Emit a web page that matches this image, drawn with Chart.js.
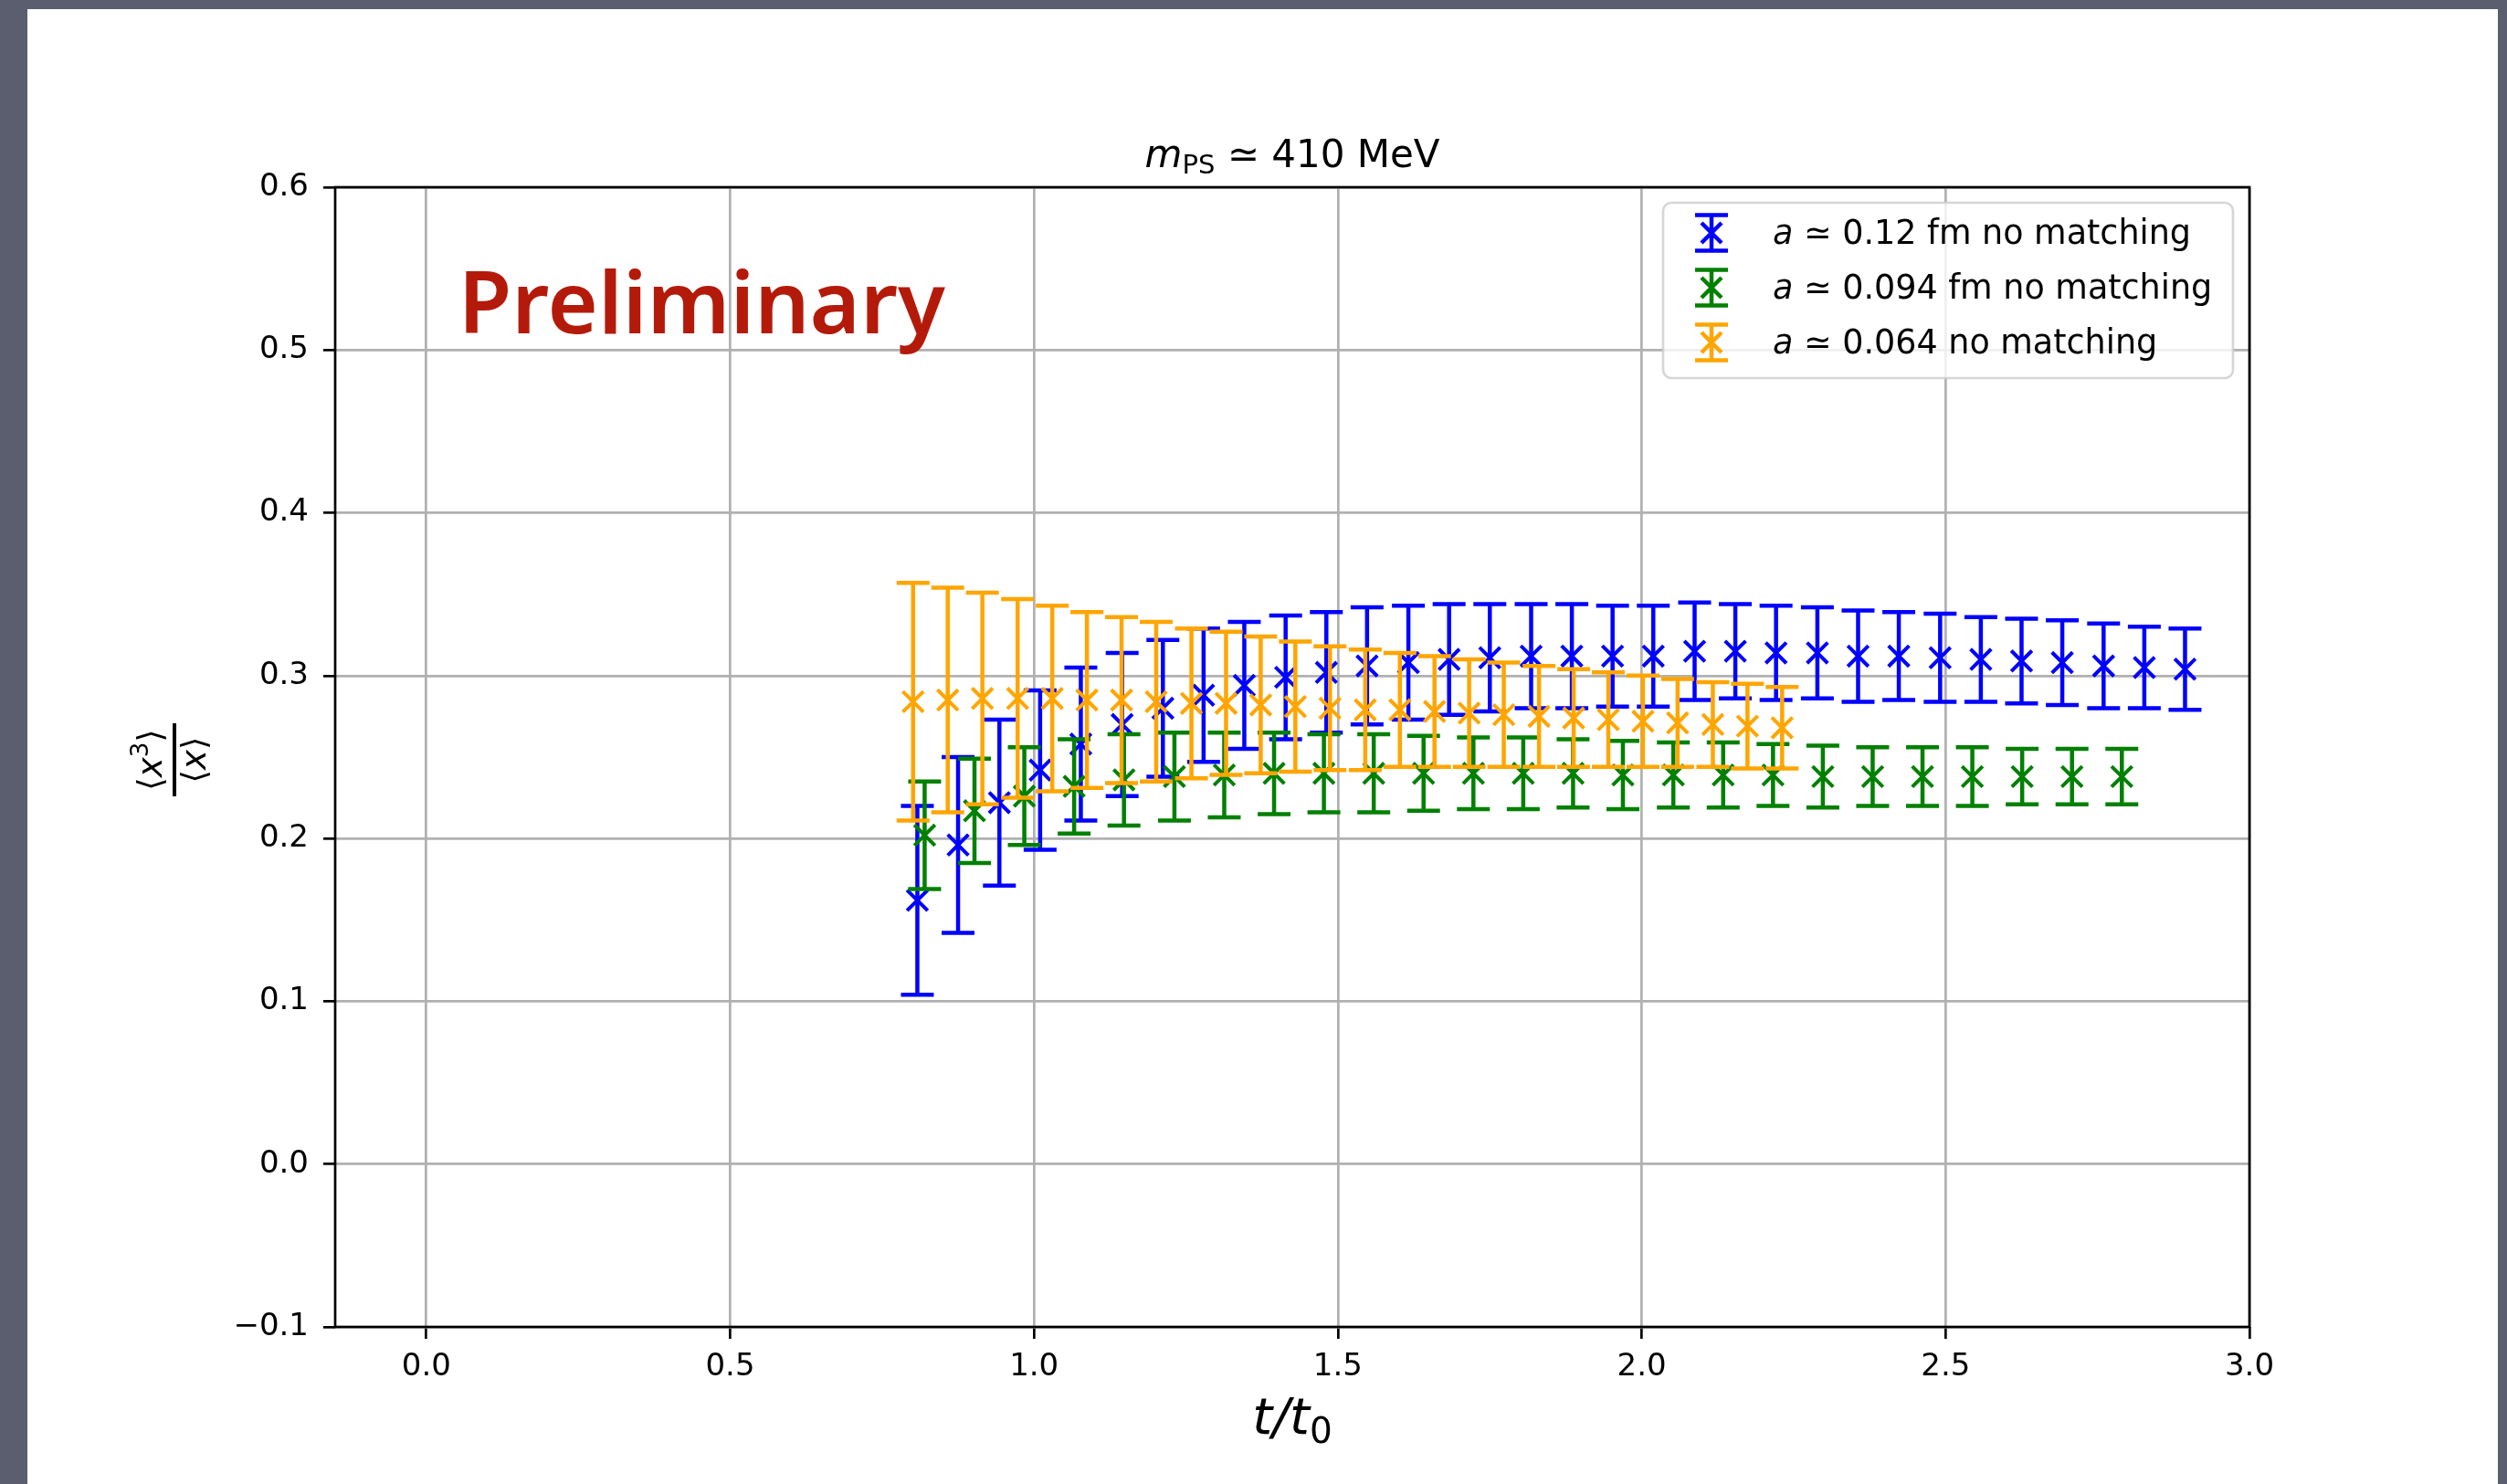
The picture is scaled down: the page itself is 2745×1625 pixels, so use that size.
<!DOCTYPE html>
<html>
<head>
<meta charset="utf-8">
<title>m_PS ≃ 410 MeV</title>
<script src="https://cdn.jsdelivr.net/npm/chart.js"></script>
<style>
  html, body { margin: 0; padding: 0; }
  body { width: 2745px; height: 1625px; background: #5a5e6e; position: relative; overflow: hidden; }
  .slide { position: absolute; left: 30px; top: 10px; width: 2705px; height: 1615px; background: #fff; }
  #chart { position: absolute; left: 0; top: 0; }
</style>
</head>
<body>
<div class="slide"></div>
<canvas id="chart" width="2745" height="1625"></canvas>
<script>
// series
const seriesLabels = ['a ≃ 0.12 fm no matching', 'a ≃ 0.094 fm no matching', 'a ≃ 0.064 no matching'];
const seriesColors = ['#0000ff', '#008000', '#ffa500'];

// a ~ 0.12 fm
const xBlue = [0.808, 0.875, 0.943, 1.010, 1.077, 1.145, 1.212, 1.279, 1.346, 1.414, 1.481, 1.548, 1.616, 1.683, 1.750, 1.818,
               1.885, 1.952, 2.019, 2.087, 2.154, 2.221, 2.289, 2.356, 2.423, 2.491, 2.558, 2.625, 2.692, 2.760, 2.827, 2.894];
const yBlue = [0.162, 0.196, 0.222, 0.242, 0.258, 0.270, 0.280, 0.288, 0.294, 0.299, 0.302, 0.306, 0.308, 0.310, 0.311, 0.312,
               0.312, 0.312, 0.312, 0.315, 0.315, 0.314, 0.314, 0.312, 0.312, 0.311, 0.310, 0.309, 0.308, 0.306, 0.305, 0.304];
const eBlue = [0.058, 0.054, 0.051, 0.049, 0.047, 0.044, 0.042, 0.041, 0.039, 0.038, 0.037, 0.036, 0.035, 0.034, 0.033, 0.032,
               0.032, 0.031, 0.031, 0.030, 0.029, 0.029, 0.028, 0.028, 0.027, 0.027, 0.026, 0.026, 0.026, 0.026, 0.025, 0.025];

// a ~ 0.094 fm
const xGreen = [0.820, 0.902, 0.984, 1.066, 1.148, 1.231, 1.313, 1.395, 1.477, 1.559, 1.641, 1.723, 1.805,
                1.887, 1.969, 2.052, 2.134, 2.216, 2.298, 2.380, 2.462, 2.544, 2.626, 2.708, 2.790];
const yGreen = [0.202, 0.217, 0.226, 0.232, 0.236, 0.238, 0.239, 0.240, 0.240, 0.240, 0.240, 0.240, 0.240,
                0.240, 0.239, 0.239, 0.239, 0.239, 0.238, 0.238, 0.238, 0.238, 0.238, 0.238, 0.238];
const eGreen = [0.033, 0.032, 0.030, 0.029, 0.028, 0.027, 0.026, 0.025, 0.024, 0.024, 0.023, 0.022, 0.022,
                0.021, 0.021, 0.020, 0.020, 0.019, 0.019, 0.018, 0.018, 0.018, 0.017, 0.017, 0.017];

// a ~ 0.064
const xOrange = [0.801, 0.858, 0.915, 0.973, 1.030, 1.087, 1.144, 1.201, 1.259, 1.316, 1.373, 1.430, 1.487,
                 1.545, 1.602, 1.659, 1.716, 1.773, 1.831, 1.888, 1.945, 2.002, 2.059, 2.117, 2.174, 2.231];
const yOrange = [0.284, 0.285, 0.286, 0.286, 0.286, 0.285, 0.285, 0.284, 0.283, 0.283, 0.282, 0.281, 0.280,
                 0.279, 0.279, 0.278, 0.277, 0.276, 0.275, 0.274, 0.273, 0.272, 0.271, 0.270, 0.269, 0.268];
const eOrange = [0.073, 0.069, 0.065, 0.061, 0.057, 0.054, 0.051, 0.049, 0.046, 0.044, 0.042, 0.040, 0.038,
                 0.037, 0.035, 0.034, 0.033, 0.032, 0.031, 0.030, 0.029, 0.028, 0.027, 0.026, 0.026, 0.025];

const xTicks = [0.0, 0.5, 1.0, 1.5, 2.0, 2.5, 3.0];
const yTicks = [-0.1, 0.0, 0.1, 0.2, 0.3, 0.4, 0.5, 0.6];

const FONT = "'DejaVu Sans', sans-serif";

function pts(xs, ys) {
    return xs.map((x, i) => ({ x: x, y: ys[i] }));
}

function makeSet(k, xs, ys, es) {
    return {
        label: seriesLabels[k],
        data: pts(xs, ys),
        errors: es,
        order: 2 - k,   // later series on top, like matplotlib
        showLine: false,
        pointStyle: 'crossRot',
        pointRadius: 16,
        pointHoverRadius: 16,
        pointBorderWidth: 4,
        borderColor: seriesColors[k],
        backgroundColor: seriesColors[k]
    };
}

// draw a row of text pieces with different fonts
function drawRuns(ctx, runs, x, y, align) {
    let w = 0;
    runs.forEach(r => { ctx.font = r.font; w += ctx.measureText(r.text).width; });
    let cx = align === 'center' ? x - w / 2 : x;
    runs.forEach(r => {
        ctx.font = r.font;
        ctx.fillText(r.text, cx, y + (r.dy || 0));
        cx += ctx.measureText(r.text).width;
    });
}

function errSymbol(ctx, x, y, half, cap, mark) {
    ctx.beginPath();
    ctx.moveTo(x, y - half); ctx.lineTo(x, y + half);
    ctx.moveTo(x - cap, y - half); ctx.lineTo(x + cap, y - half);
    ctx.moveTo(x - cap, y + half); ctx.lineTo(x + cap, y + half);
    ctx.moveTo(x - mark, y - mark); ctx.lineTo(x + mark, y + mark);
    ctx.moveTo(x - mark, y + mark); ctx.lineTo(x + mark, y - mark);
    ctx.stroke();
}

const errorBars = {
    id: 'errorBars',
    beforeDatasetDraw(chart, args) {
        const ds = chart.data.datasets[args.index];
        const xs = chart.scales.x, ys = chart.scales.y;
        const ctx = chart.ctx;
        ctx.save();
        ctx.strokeStyle = ds.borderColor;
        ctx.lineWidth = 4.5;
        ds.data.forEach((p, i) => {
            const e = ds.errors[i];
            const px = xs.getPixelForValue(p.x);
            const top = ys.getPixelForValue(p.y + e);
            const bot = ys.getPixelForValue(p.y - e);
            ctx.beginPath();
            ctx.moveTo(px, top); ctx.lineTo(px, bot);
            ctx.moveTo(px - 18, top); ctx.lineTo(px + 18, top);
            ctx.moveTo(px - 18, bot); ctx.lineTo(px + 18, bot);
            ctx.stroke();
        });
        ctx.restore();
    }
};

const decorations = {
    id: 'decorations',
    afterDraw(chart) {
        const ctx = chart.ctx;
        const a = chart.chartArea;
        const xs = chart.scales.x, ys = chart.scales.y;
        const midX = (a.left + a.right) / 2;
        const midY = (a.top + a.bottom) / 2;
        ctx.save();

        // axes frame
        ctx.strokeStyle = '#000';
        ctx.lineWidth = 2.7;
        ctx.strokeRect(a.left, a.top, a.right - a.left, a.bottom - a.top);

        ctx.fillStyle = '#000';
        ctx.textBaseline = 'alphabetic';
        ctx.textAlign = 'left';

        // title
        drawRuns(ctx, [
            { text: 'm', font: `italic 42px ${FONT}` },
            { text: 'PS', font: `29px ${FONT}`, dy: 7 },
            { text: ' \u2243 410 MeV', font: `42px ${FONT}` }
        ], midX, a.top - 22, 'center');

        // x label
        drawRuns(ctx, [
            { text: 't/t', font: `italic 56px ${FONT}` },
            { text: '0', font: `39px ${FONT}`, dy: 10 }
        ], midX, 1570, 'center');

        // y label: <x^3> / <x>, rotated
        ctx.save();
        ctx.translate(191, midY + 3);
        ctx.rotate(-Math.PI / 2);
        ctx.fillRect(-40, -2, 80, 4);
        drawRuns(ctx, [
            { text: '\u27e8', font: `37px ${FONT}` },
            { text: 'x', font: `italic 37px ${FONT}` },
            { text: '3', font: `26px ${FONT}`, dy: -15 },
            { text: '\u27e9', font: `37px ${FONT}` }
        ], 0, -14, 'center');
        drawRuns(ctx, [
            { text: '\u27e8', font: `37px ${FONT}` },
            { text: 'x', font: `italic 37px ${FONT}` },
            { text: '\u27e9', font: `37px ${FONT}` }
        ], 0, 34, 'center');
        ctx.restore();

        // "Preliminary" stamp
        ctx.fillStyle = '#b41a0a';
        let size = 100;
        ctx.font = `600 ${size}px 'Comic Sans MS', 'Noto Sans', sans-serif`;
        size = size * 533 / ctx.measureText('Preliminary').width;
        ctx.font = `600 ${size}px 'Comic Sans MS', 'Noto Sans', sans-serif`;
        ctx.fillText('Preliminary', xs.getPixelForValue(0.053), ys.getPixelForValue(0.51));

        // legend
        const lw = 624, lh = 192;
        const lx = a.right - 18 - lw, ly = a.top + 17;
        ctx.beginPath();
        ctx.roundRect(lx, ly, lw, lh, 9);
        ctx.fillStyle = 'rgba(255,255,255,0.8)';
        ctx.fill();
        ctx.strokeStyle = 'rgba(204,204,204,0.8)';
        ctx.lineWidth = 2.7;
        ctx.stroke();
        chart.data.datasets.forEach((ds, k) => {
            const ry = ly + 33 + 60 * k;
            ctx.strokeStyle = ds.borderColor;
            ctx.lineWidth = 4.5;
            errSymbol(ctx, lx + 53, ry, 19.5, 18, 11);
            ctx.fillStyle = '#000';
            drawRuns(ctx, [
                { text: ds.label.charAt(0), font: `italic 36.5px ${FONT}` },
                { text: ds.label.slice(1), font: `36.5px ${FONT}` }
            ], lx + 120, ry + 12, 'left');
        });

        ctx.restore();
    }
};

function fixTicks(list) {
    return function (scale) {
        scale.ticks = list.map(v => ({ value: v }));
    };
}

function fmt(v) {
    return v < 0 ? '\u2212' + Math.abs(v).toFixed(1) : v.toFixed(1);
}

const gridOpts = {
    color: '#b0b0b0',
    lineWidth: 2.7,
    drawTicks: true,
    tickLength: 13,
    tickColor: '#000',
    tickWidth: 2.7
};

new Chart(document.getElementById('chart'), {
    type: 'scatter',
    data: {
        datasets: [
            makeSet(0, xBlue, yBlue, eBlue),
            makeSet(1, xGreen, yGreen, eGreen),
            makeSet(2, xOrange, yOrange, eOrange)
        ]
    },
    options: {
        responsive: false,
        maintainAspectRatio: false,
        devicePixelRatio: 1,
        animation: false,
        layout: { padding: { left: 0, top: 205, right: 282, bottom: 52 } },
        plugins: {
            legend: { display: false },
            title: { display: false },
            tooltip: { enabled: false }
        },
        scales: {
            x: {
                type: 'linear',
                min: -0.15,
                max: 3.0,
                afterBuildTicks: fixTicks(xTicks),
                afterFit(s) { s.height = 120; },
                grid: gridOpts,
                border: { display: false },
                ticks: { color: '#000', font: { family: FONT, size: 34 }, padding: 11, maxRotation: 0, callback: fmt }
            },
            y: {
                type: 'linear',
                min: -0.1,
                max: 0.6,
                afterBuildTicks: fixTicks(yTicks),
                afterFit(s) { s.width = 367; },
                grid: gridOpts,
                border: { display: false },
                ticks: { color: '#000', font: { family: FONT, size: 34 }, padding: 16, callback: fmt }
            }
        }
    },
    plugins: [errorBars, decorations]
});
</script>
</body>
</html>
